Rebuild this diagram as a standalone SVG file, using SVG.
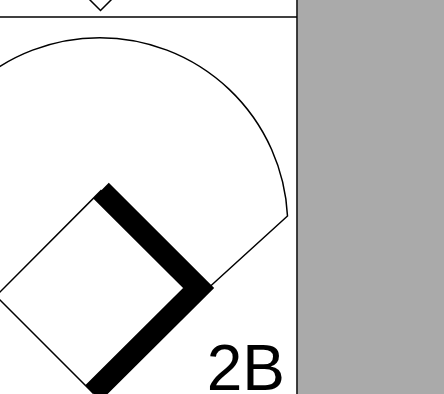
<svg xmlns="http://www.w3.org/2000/svg" width="444" height="394" viewBox="0 0 444 394">
<style>
.thin{fill:none;stroke:#000;stroke-width:1.5}
.path{fill:none;stroke:#000;stroke-width:22;stroke-linejoin:miter;stroke-linecap:butt}
.lbl{font-family:"Liberation Sans",Arial,sans-serif;font-size:64px;fill:#000}
</style>
<rect x="0" y="0" width="444" height="394" fill="#fff"/>
<rect x="297.5" y="0" width="146.5" height="394" fill="#aaaaaa"/>
<g id="frame">
<line class="thin" x1="297" y1="0" x2="297" y2="394" stroke-width="2"/>
<line class="thin" x1="0" y1="17" x2="297" y2="17"/>
</g>
<g id="marker">
<polygon class="thin" points="100.5,-10.5 111,0 100.5,10.5 90,0"/>
</g>
<g id="field">
<path class="thin" d="M93,393 L287.5,216 A188,188 0 0 0 -88,216"/>
</g>
<g id="diamond">
<polygon class="thin" points="-4,296 101,190.6 198.6,288 93,393"/>
</g>
<g id="connectors">
<polyline class="path" points="93,393 198.6,288 101,190.6"/>
</g>
<g id="label">
<text class="lbl" x="285" y="390" text-anchor="end">2B</text>
</g>
</svg>
